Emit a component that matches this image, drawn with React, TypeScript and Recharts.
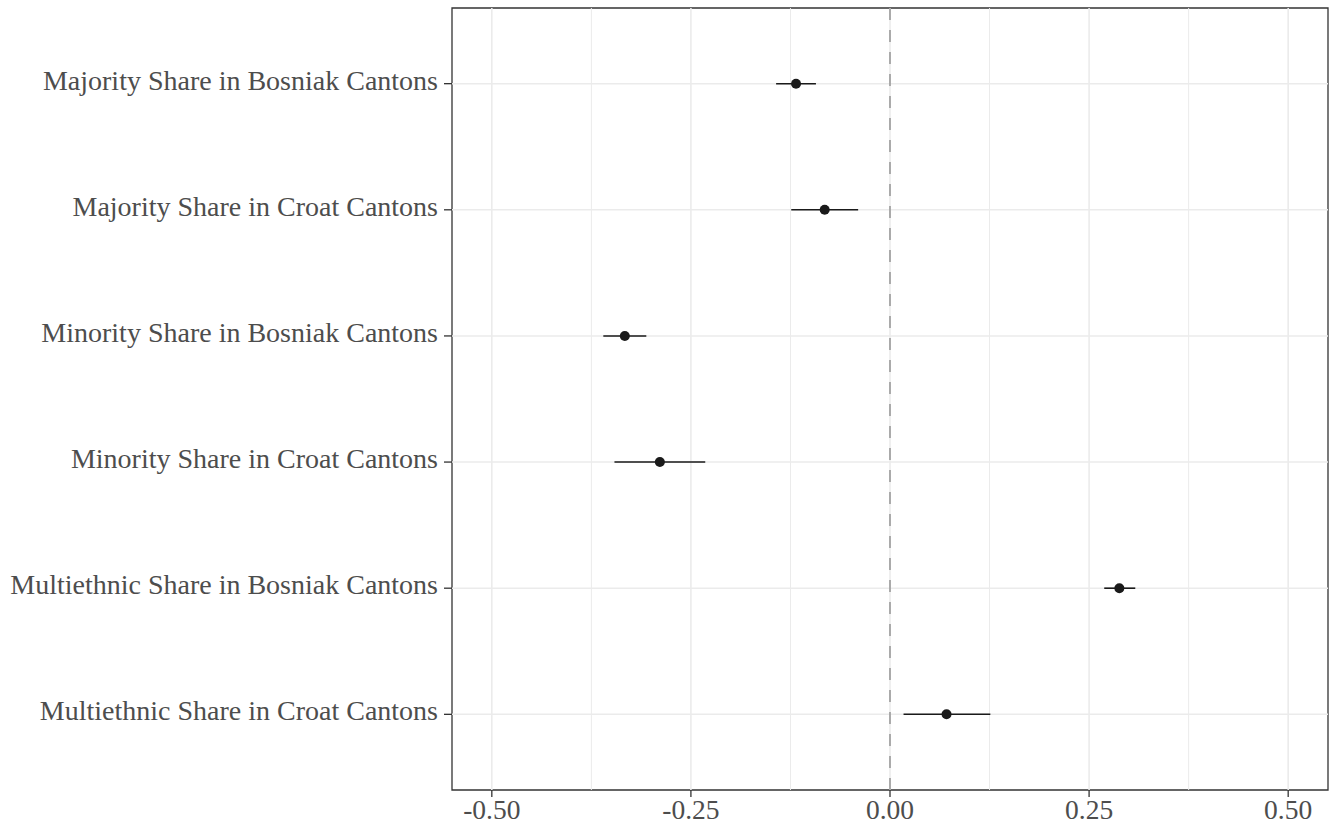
import {
  ErrorBar,
  ReferenceArea,
  ReferenceLine,
  Scatter,
  ScatterChart,
  XAxis,
  YAxis,
} from "recharts";

// coefficient plot: point estimate + confidence interval per term
const TERMS = [
  "Majority Share in Bosniak Cantons",
  "Majority Share in Croat Cantons",
  "Minority Share in Bosniak Cantons",
  "Minority Share in Croat Cantons",
  "Multiethnic Share in Bosniak Cantons",
  "Multiethnic Share in Croat Cantons",
];
const ESTIMATES = [-0.118, -0.082, -0.333, -0.289, 0.288, 0.071];
const CI_LOW = [-0.143, -0.124, -0.36, -0.346, 0.269, 0.017];
const CI_HIGH = [-0.093, -0.04, -0.306, -0.232, 0.308, 0.126];

const X_TICKS = [-0.5, -0.25, 0, 0.25, 0.5];
const X_MINOR = [-0.375, -0.125, 0.125, 0.375];
const Y_TICKS = [1, 2, 3, 4, 5, 6];

const X_DOMAIN = [-0.55, 0.55];
const Y_DOMAIN = [0.4, 6.6];

const GRID = "#ebebeb";
const INK = "#1a1a1a";
const FONT = "'Liberation Serif', 'Times New Roman', serif";
const X_TICK_TEXT = { fill: "#4d4d4d", fontSize: 27.5, fontFamily: FONT };
const Y_TICK_TEXT = { fill: "#4d4d4d", fontSize: 28, fontFamily: FONT, dy: -4 };

const rows = TERMS.map((term, i) => ({
  term,
  pos: i + 1,
  est: ESTIMATES[i],
  err: [ESTIMATES[i] - CI_LOW[i], CI_HIGH[i] - ESTIMATES[i]],
}));

const Dot = (props: any) => <circle cx={props.cx} cy={props.cy} r={5} fill={INK} />;

export default function App() {
  return (
    <div style={{ position: "absolute", left: 0, top: 0, background: "#fff" }}>
      <ScatterChart width={1335} height={825} margin={{ top: 8, right: 7, bottom: 0, left: 0 }}>
        <XAxis
          type="number"
          dataKey="est"
          domain={X_DOMAIN}
          ticks={X_TICKS}
          allowDataOverflow
          tickFormatter={(v: number) => v.toFixed(2)}
          tick={X_TICK_TEXT}
          tickSize={7}
          tickMargin={2}
          tickLine={{ stroke: "#333", strokeWidth: 1.3 }}
          axisLine={false}
          height={35}
        />
        <YAxis
          type="number"
          dataKey="pos"
          domain={Y_DOMAIN}
          ticks={Y_TICKS}
          reversed
          allowDataOverflow
          tickFormatter={(v: number) => TERMS[v - 1] ?? ""}
          tick={Y_TICK_TEXT}
          tickSize={8}
          tickMargin={6}
          tickLine={{ stroke: "#333", strokeWidth: 1.3 }}
          axisLine={false}
          width={452}
          interval={0}
        />
        {X_MINOR.map((x) => (
          <ReferenceLine key={"mn" + x} x={x} stroke={GRID} strokeWidth={1} />
        ))}
        {X_TICKS.map((x) => (
          <ReferenceLine key={"mj" + x} x={x} stroke={GRID} strokeWidth={1.6} />
        ))}
        {Y_TICKS.map((y) => (
          <ReferenceLine key={"h" + y} y={y} stroke={GRID} strokeWidth={1.6} />
        ))}
        <ReferenceLine x={0} stroke="#a3a3a3" strokeWidth={1.8} strokeDasharray="12 10" />
        <Scatter data={rows} shape={Dot} isAnimationActive={false}>
          <ErrorBar dataKey="err" direction="x" width={0} stroke={INK} strokeWidth={1.6} isAnimationActive={false} />
        </Scatter>
        <ReferenceArea
          x1={X_DOMAIN[0]}
          x2={X_DOMAIN[1]}
          y1={Y_DOMAIN[0]}
          y2={Y_DOMAIN[1]}
          fill="none"
          fillOpacity={0}
          stroke="#333"
          strokeWidth={1.3}
        />
      </ScatterChart>
    </div>
  );
}
